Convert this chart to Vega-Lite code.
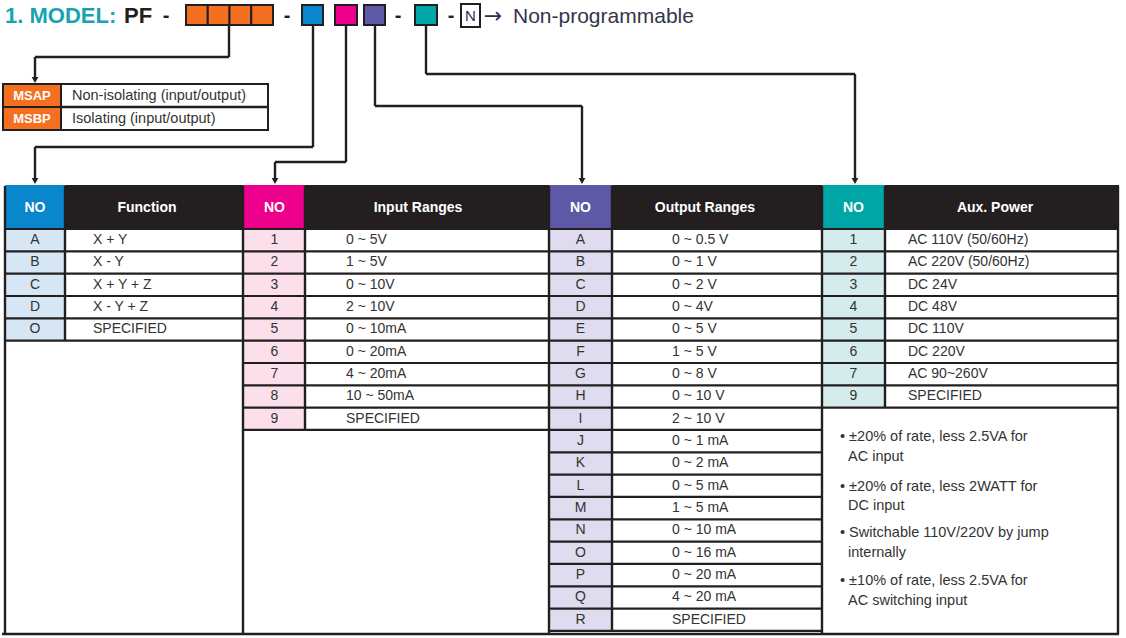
{
  "$schema": "https://vega.github.io/schema/vega-lite/v6.json",
  "width": 1126,
  "height": 638,
  "autosize": {"type": "fit", "contains": "padding"},
  "padding": 0,
  "background": "#ffffff",
  "config": {"view": {"stroke": null}, "text": {"font": "Liberation Sans"}},
  "datasets": {
    "tables": [
      {"t": "F", "xl": 5, "xn": 35, "xd": 65, "xt": 93, "xr": 243, "first": 0, "nrows": 5, "lc": "lightblue"},
      {"t": "I", "xl": 243, "xn": 274.5, "xd": 305, "xt": 346, "xr": 549, "first": 0, "nrows": 9, "lc": "lightpink"},
      {"t": "O", "xl": 549, "xn": 580.5, "xd": 612, "xt": 672, "xr": 822, "first": 0, "nrows": 18, "lc": "lightpurple"},
      {"t": "A", "xl": 822, "xn": 853.5, "xd": 885, "xt": 908, "xr": 1118, "first": 0, "nrows": 8, "lc": "lightteal"}
    ],
    "cells": [
      {"t": "F", "r": 0, "no": "A", "d": "X + Y"},
      {"t": "F", "r": 1, "no": "B", "d": "X - Y"},
      {"t": "F", "r": 2, "no": "C", "d": "X + Y + Z"},
      {"t": "F", "r": 3, "no": "D", "d": "X - Y + Z"},
      {"t": "F", "r": 4, "no": "O", "d": "\u00a0SPECIFIED"},
      {"t": "I", "r": 0, "no": "1", "d": "0 ~ 5V"},
      {"t": "I", "r": 1, "no": "2", "d": "1 ~ 5V"},
      {"t": "I", "r": 2, "no": "3", "d": "0 ~ 10V"},
      {"t": "I", "r": 3, "no": "4", "d": "2 ~ 10V"},
      {"t": "I", "r": 4, "no": "5", "d": "0 ~ 10mA"},
      {"t": "I", "r": 5, "no": "6", "d": "0 ~ 20mA"},
      {"t": "I", "r": 6, "no": "7", "d": "4 ~ 20mA"},
      {"t": "I", "r": 7, "no": "8", "d": "10 ~ 50mA"},
      {"t": "I", "r": 8, "no": "9", "d": "SPECIFIED"},
      {"t": "O", "r": 0, "no": "A", "d": "0 ~ 0.5 V"},
      {"t": "O", "r": 1, "no": "B", "d": "0 ~ 1 V"},
      {"t": "O", "r": 2, "no": "C", "d": "0 ~ 2 V"},
      {"t": "O", "r": 3, "no": "D", "d": "0 ~ 4V"},
      {"t": "O", "r": 4, "no": "E", "d": "0 ~ 5 V"},
      {"t": "O", "r": 5, "no": "F", "d": "1 ~ 5 V"},
      {"t": "O", "r": 6, "no": "G", "d": "0 ~ 8 V"},
      {"t": "O", "r": 7, "no": "H", "d": "0 ~ 10 V"},
      {"t": "O", "r": 8, "no": "I", "d": "2 ~ 10 V"},
      {"t": "O", "r": 9, "no": "J", "d": "0 ~ 1 mA"},
      {"t": "O", "r": 10, "no": "K", "d": "0 ~ 2 mA"},
      {"t": "O", "r": 11, "no": "L", "d": "0 ~ 5 mA"},
      {"t": "O", "r": 12, "no": "M", "d": "1 ~ 5 mA"},
      {"t": "O", "r": 13, "no": "N", "d": "0 ~ 10 mA"},
      {"t": "O", "r": 14, "no": "O", "d": "0 ~ 16 mA"},
      {"t": "O", "r": 15, "no": "P", "d": "0 ~ 20 mA"},
      {"t": "O", "r": 16, "no": "Q", "d": "4 ~ 20 mA"},
      {"t": "O", "r": 17, "no": "R", "d": "SPECIFIED"},
      {"t": "A", "r": 0, "no": "1", "d": "AC 110V (50/60Hz)"},
      {"t": "A", "r": 1, "no": "2", "d": "AC 220V (50/60Hz)"},
      {"t": "A", "r": 2, "no": "3", "d": "DC 24V"},
      {"t": "A", "r": 3, "no": "4", "d": "DC 48V"},
      {"t": "A", "r": 4, "no": "5", "d": "DC 110V"},
      {"t": "A", "r": 5, "no": "6", "d": "DC 220V"},
      {"t": "A", "r": 6, "no": "7", "d": "AC 90~260V"},
      {"t": "A", "r": 7, "no": "9", "d": "SPECIFIED"}
    ],
    "shapes": [
      {"part": "header band", "x": 5, "x2": 1119, "y": 185, "y2": 229, "kind": "black", "grp": "fill"},
      {"part": "NO function", "x": 5, "x2": 65, "y": 185, "y2": 229, "kind": "blue", "grp": "fill"},
      {"part": "NO input", "x": 243, "x2": 305, "y": 185, "y2": 229, "kind": "magenta", "grp": "fill"},
      {"part": "NO output", "x": 549, "x2": 612, "y": 185, "y2": 229, "kind": "purple", "grp": "fill"},
      {"part": "NO aux", "x": 822, "x2": 885, "y": 185, "y2": 229, "kind": "teal", "grp": "fill"},
      {"part": "option frame", "x": 3, "x2": 268, "y": 84, "y2": 130, "kind": "white", "grp": "box"},
      {"part": "MSAP", "x": 3, "x2": 61, "y": 84, "y2": 107, "kind": "orange", "grp": "box"},
      {"part": "MSBP", "x": 3, "x2": 61, "y": 107, "y2": 130, "kind": "orange", "grp": "box"},
      {"part": "code 1", "x": 186, "x2": 207.75, "y": 5, "y2": 25, "kind": "orange", "grp": "box"},
      {"part": "code 2", "x": 207.75, "x2": 229.5, "y": 5, "y2": 25, "kind": "orange", "grp": "box"},
      {"part": "code 3", "x": 229.5, "x2": 251.25, "y": 5, "y2": 25, "kind": "orange", "grp": "box"},
      {"part": "code 4", "x": 251.25, "x2": 273, "y": 5, "y2": 25, "kind": "orange", "grp": "box"},
      {"part": "function", "x": 302, "x2": 323, "y": 5, "y2": 25, "kind": "blue", "grp": "box"},
      {"part": "input", "x": 335, "x2": 357, "y": 5, "y2": 25, "kind": "magenta", "grp": "box"},
      {"part": "output", "x": 364, "x2": 385, "y": 5, "y2": 25, "kind": "purple", "grp": "box"},
      {"part": "aux", "x": 415, "x2": 437, "y": 5, "y2": 25, "kind": "teal", "grp": "box"},
      {"part": "N", "x": 461, "x2": 480, "y": 4, "y2": 27, "kind": "white", "grp": "box"}
    ],
    "lines": [
      {"x": 229, "y": 25, "x2": 229, "y2": 57},
      {"x": 229, "y": 57, "x2": 35, "y2": 57},
      {"x": 35, "y": 57, "x2": 35, "y2": 80},
      {"x": 313, "y": 25, "x2": 313, "y2": 147},
      {"x": 313, "y": 147, "x2": 35, "y2": 147},
      {"x": 35, "y": 147, "x2": 35, "y2": 181},
      {"x": 346, "y": 25, "x2": 346, "y2": 162},
      {"x": 346, "y": 162, "x2": 275, "y2": 162},
      {"x": 275, "y": 162, "x2": 275, "y2": 181},
      {"x": 375, "y": 25, "x2": 375, "y2": 106},
      {"x": 375, "y": 106, "x2": 582, "y2": 106},
      {"x": 582, "y": 106, "x2": 582, "y2": 181},
      {"x": 426, "y": 25, "x2": 426, "y2": 74},
      {"x": 426, "y": 74, "x2": 855, "y2": 74},
      {"x": 855, "y": 74, "x2": 855, "y2": 181},
      {"x": 61, "y": 107, "x2": 268, "y2": 107},
      {"x": 5, "y": 186, "x2": 5, "y2": 634},
      {"x": 65, "y": 186, "x2": 65, "y2": 341},
      {"x": 243, "y": 186, "x2": 243, "y2": 634},
      {"x": 305, "y": 186, "x2": 305, "y2": 430},
      {"x": 549, "y": 186, "x2": 549, "y2": 634},
      {"x": 612, "y": 186, "x2": 612, "y2": 631},
      {"x": 822, "y": 186, "x2": 822, "y2": 634},
      {"x": 885, "y": 186, "x2": 885, "y2": 408},
      {"x": 1118, "y": 186, "x2": 1118, "y2": 634},
      {"x": 2, "y": 634, "x2": 1119, "y2": 634}
    ],
    "heads": [
      {"x": 35, "y": 80},
      {"x": 35, "y": 181},
      {"x": 275, "y": 181},
      {"x": 582, "y": 181},
      {"x": 855, "y": 181}
    ],
    "labels": [
      {"role": "prefix", "text": "1. MODEL:", "x": 5, "y": 16},
      {"role": "code", "text": "PF", "x": 124, "y": 16},
      {"role": "sep", "text": "-", "x": 166, "y": 16},
      {"role": "sep", "text": "-", "x": 287, "y": 16},
      {"role": "sep", "text": "-", "x": 398, "y": 16},
      {"role": "sep", "text": "-", "x": 451, "y": 16},
      {"role": "N", "text": "N", "x": 470.5, "y": 16},
      {"role": "arrow", "text": "→", "x": 493, "y": 16},
      {"role": "caption", "text": "Non-programmable", "x": 513, "y": 17},
      {"role": "option code", "text": "MSAP", "x": 32, "y": 96},
      {"role": "option code", "text": "MSBP", "x": 32, "y": 119},
      {"role": "option text", "text": "Non-isolating (input/output)", "x": 72, "y": 96},
      {"role": "option text", "text": "Isolating (input/output)", "x": 72, "y": 119},
      {"role": "header", "text": "NO", "x": 35, "y": 208},
      {"role": "header", "text": "Function", "x": 147, "y": 208},
      {"role": "header", "text": "NO", "x": 274.5, "y": 208},
      {"role": "header", "text": "Input Ranges", "x": 418, "y": 208},
      {"role": "header", "text": "NO", "x": 580.5, "y": 208},
      {"role": "header", "text": "Output Ranges", "x": 705, "y": 208},
      {"role": "header", "text": "NO", "x": 853.5, "y": 208},
      {"role": "header", "text": "Aux. Power", "x": 995, "y": 208},
      {"role": "note", "text": "• ±20% of rate, less 2.5VA for", "x": 840, "y": 437},
      {"role": "note", "text": "AC input", "x": 848, "y": 457},
      {"role": "note", "text": "• ±20% of rate, less 2WATT for", "x": 840, "y": 487},
      {"role": "note", "text": "DC input", "x": 848, "y": 506},
      {"role": "note", "text": "• Switchable 110V/220V by jump", "x": 840, "y": 533},
      {"role": "note", "text": "internally", "x": 848, "y": 553},
      {"role": "note", "text": "• ±10% of rate, less 2.5VA for", "x": 840, "y": 581},
      {"role": "note", "text": "AC switching input", "x": 848, "y": 601}
    ]
  },
  "resolve": {"scale": {"y": "independent"}},
  "layer": [
    {
      "data": {"name": "shapes"},
      "transform": [{"filter": "datum.grp == 'fill'"}],
      "mark": {"type": "rect"},
      "encoding": {
        "x": {"field": "x", "type": "quantitative", "scale": {"domain": [0, 1126], "nice": false, "zero": false}, "axis": null},
        "x2": {"field": "x2"},
        "y": {"field": "y", "type": "quantitative", "scale": {"domain": [0, 638], "reverse": true, "nice": false, "zero": false}, "axis": null},
        "y2": {"field": "y2"},
        "color": {"field": "kind", "type": "nominal", "legend": null, "scale": {"domain": ["orange", "blue", "magenta", "purple", "teal", "black", "white", "lightblue", "lightpink", "lightpurple", "lightteal"], "range": ["#f37021", "#0a86cd", "#ec008c", "#5d59a6", "#00a6a6", "#231f20", "#ffffff", "#d6e6f4", "#fbe0ec", "#dedcee", "#d4ecec"]}}
      }
    },
    {
      "data": {"name": "tables"},
      "mark": {"type": "rect"},
      "encoding": {
        "x": {"field": "xl", "type": "quantitative", "scale": {"domain": [0, 1126], "nice": false, "zero": false}, "axis": null},
        "x2": {"field": "xd"},
        "y": {"field": "first", "type": "quantitative", "scale": {"domain": [-10.255, 18.316], "reverse": true, "nice": false, "zero": false}, "axis": null},
        "y2": {"field": "nrows"},
        "color": {"field": "lc", "type": "nominal", "legend": null, "scale": {"domain": ["orange", "blue", "magenta", "purple", "teal", "black", "white", "lightblue", "lightpink", "lightpurple", "lightteal"], "range": ["#f37021", "#0a86cd", "#ec008c", "#5d59a6", "#00a6a6", "#231f20", "#ffffff", "#d6e6f4", "#fbe0ec", "#dedcee", "#d4ecec"]}}
      }
    },
    {
      "data": {"name": "shapes"},
      "transform": [{"filter": "datum.grp == 'box'"}],
      "mark": {"type": "rect", "stroke": "#231f20", "strokeWidth": 2},
      "encoding": {
        "x": {"field": "x", "type": "quantitative", "scale": {"domain": [0, 1126], "nice": false, "zero": false}, "axis": null},
        "x2": {"field": "x2"},
        "y": {"field": "y", "type": "quantitative", "scale": {"domain": [0, 638], "reverse": true, "nice": false, "zero": false}, "axis": null},
        "y2": {"field": "y2"},
        "color": {"field": "kind", "type": "nominal", "legend": null, "scale": {"domain": ["orange", "blue", "magenta", "purple", "teal", "black", "white", "lightblue", "lightpink", "lightpurple", "lightteal"], "range": ["#f37021", "#0a86cd", "#ec008c", "#5d59a6", "#00a6a6", "#231f20", "#ffffff", "#d6e6f4", "#fbe0ec", "#dedcee", "#d4ecec"]}}
      }
    },
    {
      "data": {"name": "cells"},
      "transform": [{"lookup": "t", "from": {"data": {"name": "tables"}, "key": "t", "fields": ["xl", "xn", "xt", "xr"]}}],
      "mark": {"type": "rule", "color": "#231f20", "strokeWidth": 2.2},
      "encoding": {
        "x": {"field": "xl", "type": "quantitative", "scale": {"domain": [0, 1126], "nice": false, "zero": false}, "axis": null},
        "x2": {"field": "xr"},
        "y": {"field": "r", "type": "quantitative", "scale": {"domain": [-10.255, 18.316], "reverse": true, "nice": false, "zero": false}, "axis": null}
      }
    },
    {
      "data": {"name": "tables"},
      "mark": {"type": "rule", "color": "#231f20", "strokeWidth": 2.2},
      "encoding": {
        "x": {"field": "xl", "type": "quantitative", "scale": {"domain": [0, 1126], "nice": false, "zero": false}, "axis": null},
        "x2": {"field": "xr"},
        "y": {"field": "nrows", "type": "quantitative", "scale": {"domain": [-10.255, 18.316], "reverse": true, "nice": false, "zero": false}, "axis": null}
      }
    },
    {
      "data": {"name": "lines"},
      "mark": {"type": "rule", "color": "#231f20", "strokeWidth": 2.4},
      "encoding": {
        "x": {"field": "x", "type": "quantitative", "scale": {"domain": [0, 1126], "nice": false, "zero": false}, "axis": null},
        "x2": {"field": "x2"},
        "y": {"field": "y", "type": "quantitative", "scale": {"domain": [0, 638], "reverse": true, "nice": false, "zero": false}, "axis": null},
        "y2": {"field": "y2"}
      }
    },
    {
      "data": {"name": "heads"},
      "mark": {"type": "point", "shape": "triangle-down", "filled": true, "size": 45, "color": "#231f20", "opacity": 1},
      "encoding": {
        "x": {"field": "x", "type": "quantitative", "scale": {"domain": [0, 1126], "nice": false, "zero": false}, "axis": null},
        "y": {"field": "y", "type": "quantitative", "scale": {"domain": [0, 638], "reverse": true, "nice": false, "zero": false}, "axis": null}
      }
    },
    {
      "data": {"name": "labels"},
      "transform": [{"filter": "datum.role == 'prefix'"}],
      "mark": {"type": "text", "align": "left", "baseline": "middle", "fontSize": 22, "fontWeight": "bold", "color": "#17a3b3"},
      "encoding": {
        "x": {"field": "x", "type": "quantitative", "scale": {"domain": [0, 1126], "nice": false, "zero": false}, "axis": null},
        "y": {"field": "y", "type": "quantitative", "scale": {"domain": [0, 638], "reverse": true, "nice": false, "zero": false}, "axis": null},
        "text": {"field": "text"}
      }
    },
    {
      "data": {"name": "labels"},
      "transform": [{"filter": "datum.role == 'code'"}],
      "mark": {"type": "text", "align": "left", "baseline": "middle", "fontSize": 22, "fontWeight": "bold", "color": "#231f20"},
      "encoding": {
        "x": {"field": "x", "type": "quantitative", "scale": {"domain": [0, 1126], "nice": false, "zero": false}, "axis": null},
        "y": {"field": "y", "type": "quantitative", "scale": {"domain": [0, 638], "reverse": true, "nice": false, "zero": false}, "axis": null},
        "text": {"field": "text"}
      }
    },
    {
      "data": {"name": "labels"},
      "transform": [{"filter": "datum.role == 'sep'"}],
      "mark": {"type": "text", "align": "center", "baseline": "middle", "fontSize": 20, "fontWeight": "bold", "color": "#231f20"},
      "encoding": {
        "x": {"field": "x", "type": "quantitative", "scale": {"domain": [0, 1126], "nice": false, "zero": false}, "axis": null},
        "y": {"field": "y", "type": "quantitative", "scale": {"domain": [0, 638], "reverse": true, "nice": false, "zero": false}, "axis": null},
        "text": {"field": "text"}
      }
    },
    {
      "data": {"name": "labels"},
      "transform": [{"filter": "datum.role == 'N'"}],
      "mark": {"type": "text", "align": "center", "baseline": "middle", "fontSize": 15, "color": "#2a2f4a"},
      "encoding": {
        "x": {"field": "x", "type": "quantitative", "scale": {"domain": [0, 1126], "nice": false, "zero": false}, "axis": null},
        "y": {"field": "y", "type": "quantitative", "scale": {"domain": [0, 638], "reverse": true, "nice": false, "zero": false}, "axis": null},
        "text": {"field": "text"}
      }
    },
    {
      "data": {"name": "labels"},
      "transform": [{"filter": "datum.role == 'arrow'"}],
      "mark": {"type": "text", "align": "center", "baseline": "middle", "fontSize": 22, "font": "DejaVu Sans", "color": "#2a2f4a"},
      "encoding": {
        "x": {"field": "x", "type": "quantitative", "scale": {"domain": [0, 1126], "nice": false, "zero": false}, "axis": null},
        "y": {"field": "y", "type": "quantitative", "scale": {"domain": [0, 638], "reverse": true, "nice": false, "zero": false}, "axis": null},
        "text": {"field": "text"}
      }
    },
    {
      "data": {"name": "labels"},
      "transform": [{"filter": "datum.role == 'caption'"}],
      "mark": {"type": "text", "align": "left", "baseline": "middle", "fontSize": 21, "color": "#33364a"},
      "encoding": {
        "x": {"field": "x", "type": "quantitative", "scale": {"domain": [0, 1126], "nice": false, "zero": false}, "axis": null},
        "y": {"field": "y", "type": "quantitative", "scale": {"domain": [0, 638], "reverse": true, "nice": false, "zero": false}, "axis": null},
        "text": {"field": "text"}
      }
    },
    {
      "data": {"name": "labels"},
      "transform": [{"filter": "datum.role == 'option code'"}],
      "mark": {"type": "text", "align": "center", "baseline": "middle", "fontSize": 13, "fontWeight": "bold", "color": "#ffffff"},
      "encoding": {
        "x": {"field": "x", "type": "quantitative", "scale": {"domain": [0, 1126], "nice": false, "zero": false}, "axis": null},
        "y": {"field": "y", "type": "quantitative", "scale": {"domain": [0, 638], "reverse": true, "nice": false, "zero": false}, "axis": null},
        "text": {"field": "text"}
      }
    },
    {
      "data": {"name": "labels"},
      "transform": [{"filter": "datum.role == 'header'"}],
      "mark": {"type": "text", "align": "center", "baseline": "middle", "fontSize": 14, "fontWeight": "bold", "color": "#ffffff"},
      "encoding": {
        "x": {"field": "x", "type": "quantitative", "scale": {"domain": [0, 1126], "nice": false, "zero": false}, "axis": null},
        "y": {"field": "y", "type": "quantitative", "scale": {"domain": [0, 638], "reverse": true, "nice": false, "zero": false}, "axis": null},
        "text": {"field": "text"}
      }
    },
    {
      "data": {"name": "labels"},
      "transform": [{"filter": "datum.role == 'option text' || datum.role == 'note'"}],
      "mark": {"type": "text", "align": "left", "baseline": "middle", "fontSize": 14.5, "color": "#333333"},
      "encoding": {
        "x": {"field": "x", "type": "quantitative", "scale": {"domain": [0, 1126], "nice": false, "zero": false}, "axis": null},
        "y": {"field": "y", "type": "quantitative", "scale": {"domain": [0, 638], "reverse": true, "nice": false, "zero": false}, "axis": null},
        "text": {"field": "text"}
      }
    },
    {
      "data": {"name": "cells"},
      "transform": [{"lookup": "t", "from": {"data": {"name": "tables"}, "key": "t", "fields": ["xl", "xn", "xt", "xr"]}}],
      "mark": {"type": "text", "align": "center", "baseline": "middle", "fontSize": 14, "color": "#333333"},
      "encoding": {
        "x": {"field": "xn", "type": "quantitative", "scale": {"domain": [0, 1126], "nice": false, "zero": false}, "axis": null},
        "y": {"field": "r", "type": "quantitative", "scale": {"domain": [-10.755, 17.816], "reverse": true, "nice": false, "zero": false}, "axis": null},
        "text": {"field": "no"}
      }
    },
    {
      "data": {"name": "cells"},
      "transform": [{"lookup": "t", "from": {"data": {"name": "tables"}, "key": "t", "fields": ["xl", "xn", "xt", "xr"]}}],
      "mark": {"type": "text", "align": "left", "baseline": "middle", "fontSize": 14, "color": "#333333"},
      "encoding": {
        "x": {"field": "xt", "type": "quantitative", "scale": {"domain": [0, 1126], "nice": false, "zero": false}, "axis": null},
        "y": {"field": "r", "type": "quantitative", "scale": {"domain": [-10.755, 17.816], "reverse": true, "nice": false, "zero": false}, "axis": null},
        "text": {"field": "d"}
      }
    }
  ]
}
